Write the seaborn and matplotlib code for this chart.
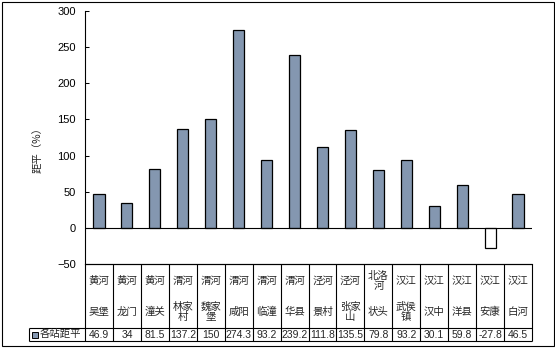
import matplotlib
matplotlib.use('Agg')
import matplotlib.pyplot as plt
import seaborn as sns
import pandas as pd
from matplotlib.patches import Rectangle

rivers = ['黄河', '黄河', '黄河', '渭河', '渭河', '渭河', '渭河', '渭河', '泾河', '泾河',
          '北洛\n河', '汉江', '汉江', '汉江', '汉江', '汉江']
stations = ['吴堡', '龙门', '潼关', '林家\n村', '魏家\n堡', '咸阳', '临潼', '华县', '景村',
            '张家\n山', '状头', '武侯\n镇', '汉中', '洋县', '安康', '白河']
values = [46.9, 34, 81.5, 137.2, 150, 274.3, 93.2, 239.2, 111.8, 135.5, 79.8, 93.2,
          30.1, 59.8, -27.8, 46.5]
yticks = [-50, 0, 50, 100, 150, 200, 250, 300]
series_name = '各站距平'
ylabel = '距平（%）'

BAR = '#8497B0'
CJK = ['Noto Sans CJK SC', 'DejaVu Sans']

sns.set_theme(style='white')
plt.rcParams['font.family'] = ['Liberation Sans', 'Noto Sans CJK SC', 'DejaVu Sans']

W, H = 555, 348
fig = plt.figure(figsize=(W / 100, H / 100), dpi=100)
fig.patch.set_facecolor('white')

L, R, T, B = 85, 532, 11, 264
ax = fig.add_axes([L / W, 1 - B / H, (R - L) / W, (B - T) / H])

df = pd.DataFrame({'station': stations, 'value': values})
sns.barplot(data=df, x='station', y='value', color=BAR, saturation=1,
            edgecolor='black', linewidth=0.9, width=0.4, ax=ax, zorder=3)
for p, v in zip(ax.patches, values):
    if v < 0:
        p.set_facecolor('white')

ax.set_xlim(-0.5, len(stations) - 0.5)
ax.set_ylim(-50, 300)
ax.set_yticks(yticks)
ax.tick_params(axis='y', direction='in', length=3, width=0.75, pad=6.5,
               labelsize=8, colors='black', left=True)
ax.tick_params(axis='x', bottom=False, labelbottom=False)
ax.set_xlabel('')
ax.set_ylabel(ylabel, family=CJK, fontsize=7.5)
ax.yaxis.set_label_coords(-0.095, 0.46)
ax.axhline(0, color='black', lw=0.8, zorder=4)
for s in ['top', 'right']:
    ax.spines[s].set_visible(False)
for s in ['left', 'bottom']:
    ax.spines[s].set_color('black')
    ax.spines[s].set_linewidth(0.8)

# overlay in pixel coordinates for the data table and border
ov = fig.add_axes([0, 0, 1, 1], facecolor='none')
ov.set_xlim(0, W)
ov.set_ylim(H, 0)
ov.axis('off')

n = len(stations)
cw = (R - L) / n
lk = dict(color='black', lw=0.8, solid_capstyle='butt')
ov.plot([L, R], [B, B], **lk)
ov.plot([29, R], [328, 328], **lk)
ov.plot([29, R], [341, 341], **lk)
ov.plot([29, 29], [328, 341], **lk)
for i in range(n + 1):
    x = L + i * cw
    ov.plot([x, x], [B, 341], **lk)
for i in range(n):
    cx = L + (i + 0.5) * cw
    ov.text(cx, 281, rivers[i], ha='center', va='center', fontsize=7.5,
            family=CJK, linespacing=1.0)
    ov.text(cx, 312, stations[i], ha='center', va='center', fontsize=7.5,
            family=CJK, linespacing=1.0)
    ov.text(cx, 335, f'{values[i]:g}', ha='center', va='center', fontsize=7.5,
            family=['Liberation Sans'])
ov.add_patch(Rectangle((32, 331.5), 6, 6, facecolor=BAR, edgecolor='black', lw=0.7))
ov.text(40, 334.5, series_name, ha='left', va='center', fontsize=7.5, family=CJK)

ov.add_patch(Rectangle((1.5, 1.5), 552, 344, facecolor='none', edgecolor='black', lw=0.8))

fig.savefig('out.png', dpi=100)
